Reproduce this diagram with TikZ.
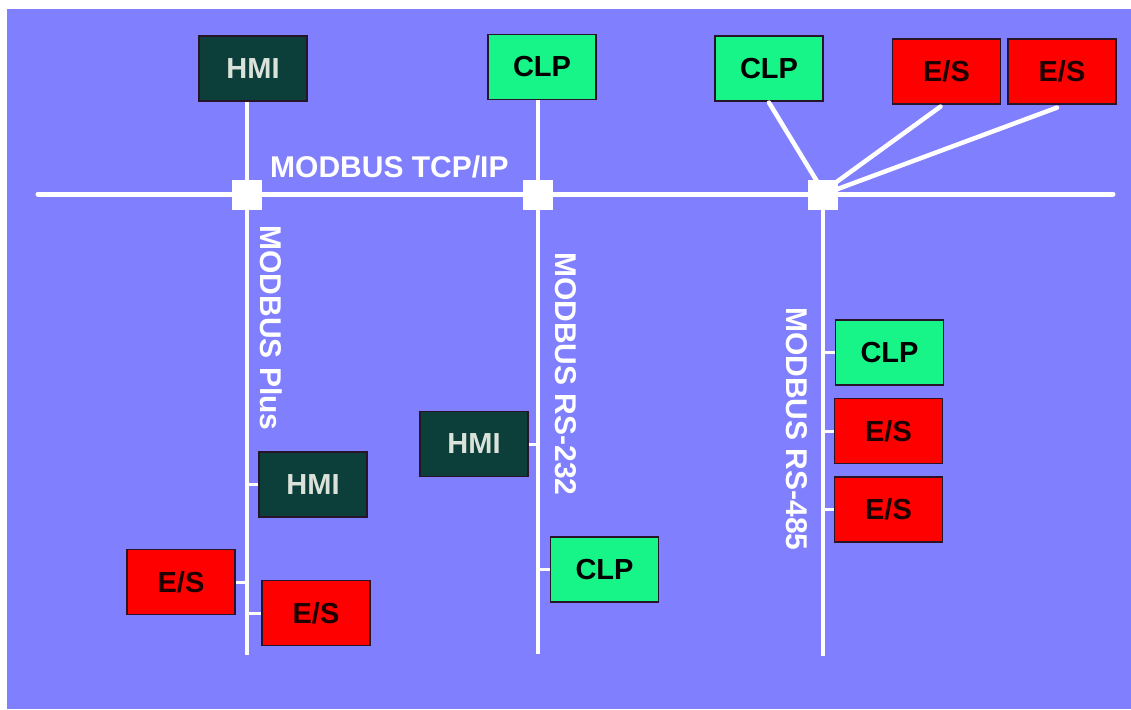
\documentclass[tikz,border=0pt]{standalone}
\usepackage{fontspec}
\setmainfont{Liberation Sans}
\usetikzlibrary{calc}
\definecolor{bgblue}{RGB}{128,128,255}
\definecolor{hmigreen}{RGB}{12,62,58}
\definecolor{hmitext}{RGB}{218,226,218}
\definecolor{clpgreen}{RGB}{24,245,136}
\definecolor{esred}{RGB}{255,0,0}
\definecolor{boxline}{RGB}{40,20,40}
\tikzset{
  devbox/.style={draw=boxline, line width=1.2pt, minimum width=108pt, minimum height=65pt, inner sep=0pt,
    font=\fontsize{29}{29}\selectfont\bfseries},
  hmibox/.style={devbox, fill=hmigreen, text=hmitext},
  clpbox/.style={devbox, fill=clpgreen, text=black},
  esbox/.style={devbox, fill=esred, text={rgb,255:red,30;green,0;blue,0}},
  bus/.style={draw=white, line width=5pt},
  drop/.style={draw=white, line width=4.5pt},
  tick/.style={draw=white, line width=3pt},
  junction/.style={fill=white, minimum size=30pt, inner sep=0pt},
  buslabel/.style={text=white, font=\fontsize{30}{30}\selectfont\bfseries, inner sep=0pt}
}
\begin{document}
\begin{tikzpicture}[x=1pt,y=-1pt]
\useasboundingbox (0,0) rectangle (1131,709);
\fill[white] (0,0) rectangle (1131,709);
\fill[bgblue] (7,9) rectangle (1131,709);

% main bus
\coordinate (busL) at (38,194);
\coordinate (busR) at (1113,194);
\draw[bus, line cap=round] (busL) -- (busR);

% junctions
\node[junction] (j1) at (247,195) {};
\node[junction] (j2) at (538,195) {};
\node[junction] (j3) at (823,195) {};

% top devices
\node[hmibox] (hmiT) at (253,68.5) {HMI};
\node[clpbox] (clpT) at (542,67) {CLP};
\node[clpbox] (clpR) at (769,68.5) {CLP};
\node[esbox] (es1) at (946.5,71.5) {E/S};
\node[esbox] (es2) at (1062,71.5) {E/S};

% vertical branch ends
\coordinate (v1) at (247,655);
\coordinate (v2) at (538,654);
\coordinate (v3) at (823,656);

\draw[drop] (hmiT.south -| j1) -- (j1);
\draw[drop] (j1) -- (v1);
\draw[drop] (clpT.south -| j2) -- (j2);
\draw[drop] (j2) -- (v2);
\draw[drop] (j3) -- (v3);

% fan lines to j3
\draw[drop, line cap=round] ($(clpR.south)+(0,1)$) -- ($(j3)+(-5,-12)$);
\draw[drop, line cap=round] ($(es1.south)+(-6,2)$) -- ($(j3)+(8,-9)$);
\draw[drop, line cap=round] ($(es2.south)+(-5,3)$) -- ($(j3)+(12,-5)$);

% bus labels
\node[buslabel, anchor=base west] (tcp) at (270,177) {MODBUS TCP/IP};
\node[buslabel, rotate=-90] (plus) at (271,328) {MODBUS Plus};
\node[buslabel, rotate=-90] (rs232) at (566,374) {MODBUS RS-232};
\node[buslabel, rotate=-90] (rs485) at (797,429) {MODBUS RS-485};

% MODBUS Plus branch
\node[hmibox] (hmi1) at (313,484.5) {HMI};
\node[esbox] (es3) at (181,582) {E/S};
\node[esbox] (es4) at (316,613) {E/S};
\draw[tick] (hmi1.west) -- (hmi1.west -| v1);
\draw[tick] (es3.east) -- (es3.east -| v1);
\draw[tick] (es4.west) -- (es4.west -| v1);

% RS-232 branch
\node[hmibox] (hmi2) at (474,444) {HMI};
\node[clpbox] (clp2) at (604.5,569.5) {CLP};
\draw[tick] (hmi2.east) -- (hmi2.east -| v2);
\draw[tick] (clp2.west) -- (clp2.west -| v2);

% RS-485 branch
\node[clpbox] (clp3) at (889.5,352.5) {CLP};
\node[esbox] (es5) at (888.5,431) {E/S};
\node[esbox] (es6) at (888.5,509.5) {E/S};
\draw[tick] (clp3.west) -- (clp3.west -| v3);
\draw[tick] (es5.west) -- (es5.west -| v3);
\draw[tick] (es6.west) -- (es6.west -| v3);
\end{tikzpicture}
\end{document}
